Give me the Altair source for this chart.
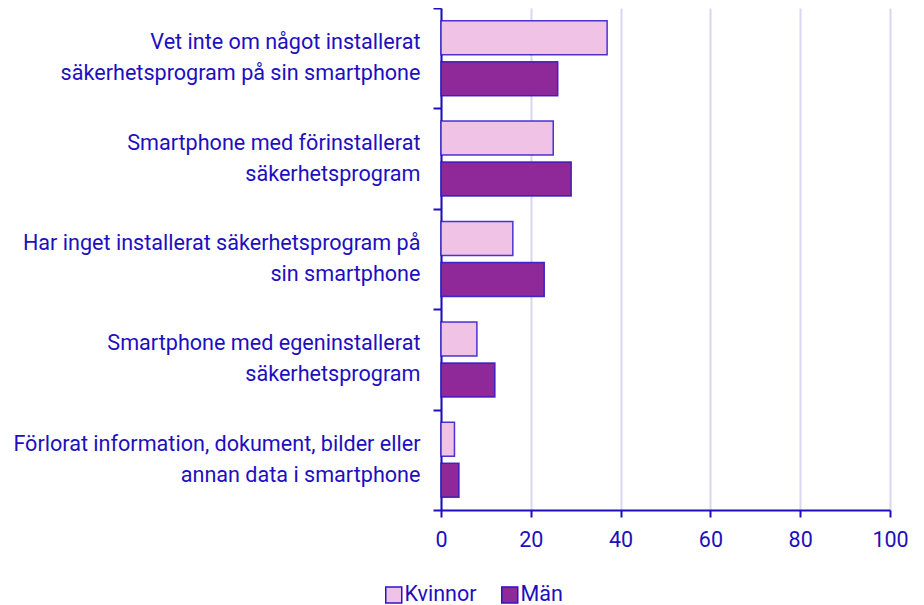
import altair as alt
import pandas as pd

categories = [
    "Vet inte om något installerat\nsäkerhetsprogram på sin smartphone",
    "Smartphone med förinstallerat\nsäkerhetsprogram",
    "Har inget installerat säkerhetsprogram på\nsin smartphone",
    "Smartphone med egeninstallerat\nsäkerhetsprogram",
    "Förlorat information, dokument, bilder eller\nannan data i smartphone",
]
series = ["Kvinnor", "Män"]
kvinnor = [37, 25, 16, 8, 3]
man = [26, 29, 23, 12, 4]
x_ticks = [0, 20, 40, 60, 80, 100]

rows = []
for c, k, m in zip(categories, kvinnor, man):
    rows.append({"kategori": c, "kon": "Kvinnor", "andel": k})
    rows.append({"kategori": c, "kon": "Män", "andel": m})
df = pd.DataFrame(rows)

TXT = "#1e0fbe"
FONT = "Roboto"

chart = alt.Chart(df).mark_bar(
    stroke="#2a14c8", strokeWidth=1.5, strokeOpacity=0.85
).encode(
    y=alt.Y(
        "kategori:N",
        sort=categories,
        title=None,
        scale=alt.Scale(paddingInner=0, paddingOuter=0),
        axis=alt.Axis(
            labelExpr="isValid(datum.value) ? split(datum.value, '\\n') : ''",
            labelAlign="right",
            labelBaseline="middle",
            labelOffset=-15.5,
            labelFontSize=21.6,
            labelLineHeight=31,
            labelPadding=13,
            labelColor=TXT,
            labelFont=FONT,
            labelLimit=600,
            tickBand="extent",
            tickSize=8,
            tickWidth=2,
            tickColor=TXT,
            domainColor=TXT,
            domainWidth=2,
            grid=False,
        ),
    ),
    yOffset=alt.YOffset(
        "kon:N", sort=series, scale=alt.Scale(paddingInner=0.17, paddingOuter=0.31)
    ),
    x=alt.X(
        "andel:Q",
        title=None,
        scale=alt.Scale(domain=[0, 100]),
        axis=alt.Axis(
            values=x_ticks,
            labelFlush=False,
            labelFontSize=21.5,
            labelColor=TXT,
            labelFont=FONT,
            labelPadding=12,
            tickSize=7,
            tickWidth=2,
            tickColor=TXT,
            domainColor=TXT,
            domainWidth=2,
            grid=True,
            gridColor="#d8d8f0",
            gridWidth=2,
        ),
    ),
    color=alt.Color(
        "kon:N",
        sort=series,
        scale=alt.Scale(domain=series, range=["#f0c3e6", "#8f2898"]),
        legend=alt.Legend(
            title=None,
            orient="none",
            direction="horizontal",
            legendX=-58,
            legendY=576,
            symbolType="square",
            symbolSize=256,
            symbolStrokeColor="#2a14c8",
            symbolStrokeWidth=1.5,
            symbolOpacity=1,
            labelFontSize=21.5,
            labelColor=TXT,
            labelFont=FONT,
            labelOffset=0,
            columnPadding=21,
        ),
    ),
).properties(
    width=449,
    height=502,
    autosize=alt.AutoSizeParams(type="none"),
    padding={"left": 433, "top": 0, "right": 26, "bottom": 95},
).configure_view(stroke=None)

chart.save("out.html", embed_options={"renderer": "svg", "actions": False})
